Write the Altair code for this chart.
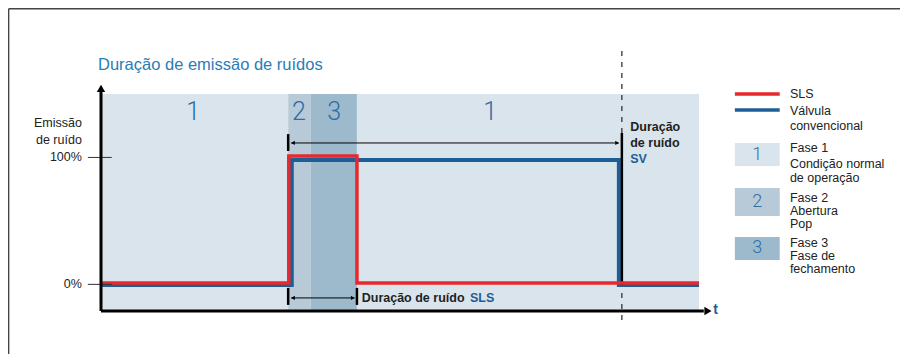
import altair as alt
import pandas as pd

# ---------------- data (x: time units 0..100, y: % emission) ----------------
phase_colors = ["#dae4ec", "#b8cad8", "#9dbacd"]
RED = "#e8282c"
BLUE = "#1d5e97"
NUMBLUE = "#2c6ea6"
TITLEBLUE = "#2b7cb6"
INK = "#222222"
FONT = "Liberation Sans"

# background phase bands
band_start = [0, 31.3, 35.1, 42.8]
band_end = [31.3, 35.1, 42.8, 100]
band_phase = ["1", "2", "3", "1"]

# phase numbers at top of plot
phase_label_x = [15.4, 33.1, 39.0, 65.1]
phase_label = ["1", "2", "3", "1"]
phase_label_y = [135.9, 135.9, 135.9, 135.9]

# step curves
sls_t = [0, 31.4, 31.4, 42.8, 42.8, 100]
sls_y = [1.1, 1.1, 101.2, 101.2, 1.1, 1.1]
sv_t = [0, 31.9, 31.9, 86.6, 86.6, 100]
sv_y = [-0.5, -0.5, 98.0, 98.0, -0.5, -0.5]

# y ticks
ytick_values = [100, 0]
ytick_labels = ["100%", "0%"]
ytick_x0, ytick_x1, ytick_label_x = -2.2, 1.8, -3.2
ytitle_lines = ["Emissão", "de ruído"]
ytitle_y = [127.2, 113.8]

# title
title_text = ["Duração de emissão de ruídos"]
title_x, title_y = [-0.5], [173.2]

# axes
yaxis_x, yaxis_y0, yaxis_y1, yarrow_y = 0, -21, 153.0, 154.5
xaxis_y, xaxis_x0, xaxis_x1, xarrow_x = -21, 0, 100.8, 101.5
t_label = ["t"]
t_label_x, t_label_y = [102.4], [-20.5]

# SV duration marker
sv_end_x = 87.1
sv_dash_y0, sv_dash_y1 = 183.8, -30.4
sv_arrow_y, sv_arrow_x0, sv_arrow_x1 = 111.4, 31.8, 86.6
sv_bar_left = (31.3, 105.1, 118.4)
sv_bar_right = (87.1, 0.0, 119.3)
sv_text = ["Duração", "de ruído"]
sv_text_y = [124.0, 111.4]
sv_text_x = 88.5
sv_name = ["SV"]
sv_name_y = [98.8]

# SLS duration marker
sls_arrow_y, sls_arrow_x0, sls_arrow_x1 = -10.7, 31.8, 42.4
sls_bar_x = [31.3, 42.8]
sls_bar_y0, sls_bar_y1 = -2.8, -16.2
sls_text = ["Duração de ruído"]
sls_text_x = [43.6]
sls_name = ["SLS"]
sls_name_x = [61.7]

# legend
leg_x0, leg_x1, leg_text_x, leg_num_x = 106.0, 113.5, 115.2, 109.75
leg_line_y = [150.0, 137.4]
leg_line_color = [RED, BLUE]
leg_line_name = ["SLS", "Válvula"]
leg_box_phase = ["1", "2", "3"]
leg_box_y0 = [93.2, 53.9, 19.2]
leg_box_y1 = [111.3, 76.0, 37.4]
leg_box_num_y = [102.3, 65.0, 28.3]
leg_text = ["SLS", "Válvula", "convencional", "Fase 1", "Condição normal", "de operação",
            "Fase 2", "Abertura", "Pop", "Fase 3", "Fase de", "fechamento"]
leg_text_y = [150.0, 136.6, 124.8, 107.5, 94.9, 83.8, 68.0, 57.7, 47.4, 32.8, 22.6, 12.3]

# outer frame
frame_x, frame_top, frame_bottom, frame_right = -15.45, 217.2, -60, 134

# ---------------- chart ----------------
xs = alt.Scale(domain=[0, 100], nice=False, zero=False)
ys = alt.Scale(domain=[-21, 150], nice=False, zero=False)


def X(f="x"):
    return alt.X(f"{f}:Q", scale=xs, axis=None)


def Y(f="y"):
    return alt.Y(f"{f}:Q", scale=ys, axis=None)


def hrule(xa, xb, yv, color="black", width=1.0, dash=None):
    df = pd.DataFrame({"x": [xa], "x2": [xb], "y": [yv]})
    kw = dict(color=color, strokeWidth=width, strokeCap="butt")
    if dash:
        kw["strokeDash"] = dash
    return alt.Chart(df).mark_rule(**kw).encode(x=X(), x2="x2", y=Y())


def vrule(xv, ya, yb, color="black", width=1.0, dash=None):
    df = pd.DataFrame({"x": [xv], "y": [ya], "y2": [yb]})
    kw = dict(color=color, strokeWidth=width, strokeCap="butt")
    if dash:
        kw["strokeDash"] = dash
    return alt.Chart(df).mark_rule(**kw).encode(x=X(), y=Y(), y2="y2")


def texts(xv, yv, tv, align="left", size=12.5, color=INK, weight="normal", family=FONT):
    n = len(tv)
    xv = xv if isinstance(xv, list) else [xv] * n
    df = pd.DataFrame({"x": xv, "y": yv, "text": tv})
    return alt.Chart(df).mark_text(align=align, baseline="middle", font=family,
                                   fontSize=size, color=color, fontWeight=weight).encode(
        x=X(), y=Y(), text="text:N")


def tri(xv, yv, shape, size):
    df = pd.DataFrame({"x": [xv], "y": [yv]})
    return alt.Chart(df).mark_point(shape=shape, filled=True, size=size, color="black",
                                    opacity=1, strokeWidth=0).encode(x=X(), y=Y())


phase_scale = alt.Scale(domain=["1", "2", "3"], range=phase_colors)

bands = pd.DataFrame({"x": band_start, "x2": band_end, "phase": band_phase,
                      "y": [-21] * 4, "y2": [150] * 4})
bg = alt.Chart(bands).mark_rect().encode(
    x=X(), x2="x2", y=Y(), y2="y2",
    color=alt.Color("phase:N", scale=phase_scale, legend=None))

sls_df = pd.DataFrame({"x": sls_t, "y": sls_y, "i": list(range(len(sls_t)))})
sv_df = pd.DataFrame({"x": sv_t, "y": sv_y, "i": list(range(len(sv_t)))})
sls_line = alt.Chart(sls_df).mark_line(color=RED, strokeWidth=3.5, strokeJoin="miter",
                                       strokeCap="butt").encode(x=X(), y=Y(), order="i:Q")
sv_line = alt.Chart(sv_df).mark_line(color=BLUE, strokeWidth=4, strokeJoin="miter",
                                     strokeCap="butt").encode(x=X(), y=Y(), order="i:Q")

leg_boxes = pd.DataFrame({"x": [leg_x0] * 3, "x2": [leg_x1] * 3, "y": leg_box_y0,
                          "y2": leg_box_y1, "phase": leg_box_phase})
leg_box_layer = alt.Chart(leg_boxes).mark_rect().encode(
    x=X(), x2="x2", y=Y(), y2="y2",
    color=alt.Color("phase:N", scale=phase_scale, legend=None))

leg_lines = pd.DataFrame({"x": [leg_x0] * 2, "x2": [leg_x1] * 2, "y": leg_line_y,
                          "name": leg_line_name})
leg_line_layer = alt.Chart(leg_lines).mark_rule(strokeWidth=3.5, strokeCap="butt").encode(
    x=X(), x2="x2", y=Y(),
    stroke=alt.Stroke("name:N", scale=alt.Scale(domain=leg_line_name, range=leg_line_color),
                      legend=None))

layers = [
    bg,
    texts(phase_label_x, phase_label_y, phase_label, align="center", size=25,
          color=NUMBLUE, weight=300, family="Roboto"),
    vrule(sv_end_x, sv_dash_y0, sv_dash_y1, color="#333333", width=1.3, dash=[5, 6]),
    sv_line,
    vrule(sv_bar_right[0], sv_bar_right[1], sv_bar_right[2], width=2.5),
    sls_line,
    # y ticks
    hrule(ytick_x0, ytick_x1, ytick_values[0], color="#333333", width=1),
    hrule(ytick_x0, ytick_x1, ytick_values[1], color="#333333", width=1),
    texts(ytick_label_x, ytick_values, ytick_labels, align="right"),
    texts(ytick_label_x, ytitle_y, ytitle_lines, align="right"),
    # axes
    vrule(yaxis_x, yaxis_y0, yaxis_y1, width=3),
    tri(yaxis_x, yarrow_y, "triangle-up", 70),
    hrule(xaxis_x0, xaxis_x1, xaxis_y, width=3),
    tri(xarrow_x, xaxis_y, "triangle-right", 70),
    texts(t_label_x, t_label_y, t_label, size=14, color=BLUE, weight="bold"),
    # title
    texts(title_x, title_y, title_text, size=16.5, color=TITLEBLUE),
    # SV duration
    hrule(sv_arrow_x0, sv_arrow_x1, sv_arrow_y, width=1),
    tri(sv_arrow_x0 + 0.3, sv_arrow_y, "triangle-left", 18),
    tri(sv_arrow_x1 - 0.3, sv_arrow_y, "triangle-right", 18),
    vrule(sv_bar_left[0], sv_bar_left[1], sv_bar_left[2], width=2.5),
    texts(sv_text_x, sv_text_y, sv_text, weight="bold"),
    texts(sv_text_x, sv_name_y, sv_name, weight="bold", color=BLUE),
    # SLS duration
    hrule(sls_arrow_x0, sls_arrow_x1, sls_arrow_y, width=1),
    tri(sls_arrow_x0 + 0.3, sls_arrow_y, "triangle-left", 18),
    tri(sls_arrow_x1 - 0.3, sls_arrow_y, "triangle-right", 18),
    vrule(sls_bar_x[0], sls_bar_y0, sls_bar_y1, width=2.5),
    vrule(sls_bar_x[1], sls_bar_y0, sls_bar_y1, width=2.5),
    texts(sls_text_x, [sls_arrow_y], sls_text, weight="bold"),
    texts(sls_name_x, [sls_arrow_y], sls_name, weight="bold", color=BLUE),
    # legend
    leg_line_layer,
    leg_box_layer,
    texts(leg_num_x, leg_box_num_y, leg_box_phase, align="center", size=18,
          color=NUMBLUE, weight=300, family="Roboto"),
    texts(leg_text_x, leg_text_y, leg_text),
    # frame
    hrule(frame_x, frame_right, frame_top, color="#444444", width=1.5),
    vrule(frame_x, frame_top, frame_bottom, color="#444444", width=1.5),
]

chart = alt.layer(*layers).properties(
    width=598, height=217,
    autosize=alt.AutoSizeParams(type="none"),
    padding={"left": 93, "top": 86, "right": 201, "bottom": 43},
    background="white",
).configure_view(stroke=None)

chart.save("out.html", embed_options={"renderer": "svg", "actions": False})
